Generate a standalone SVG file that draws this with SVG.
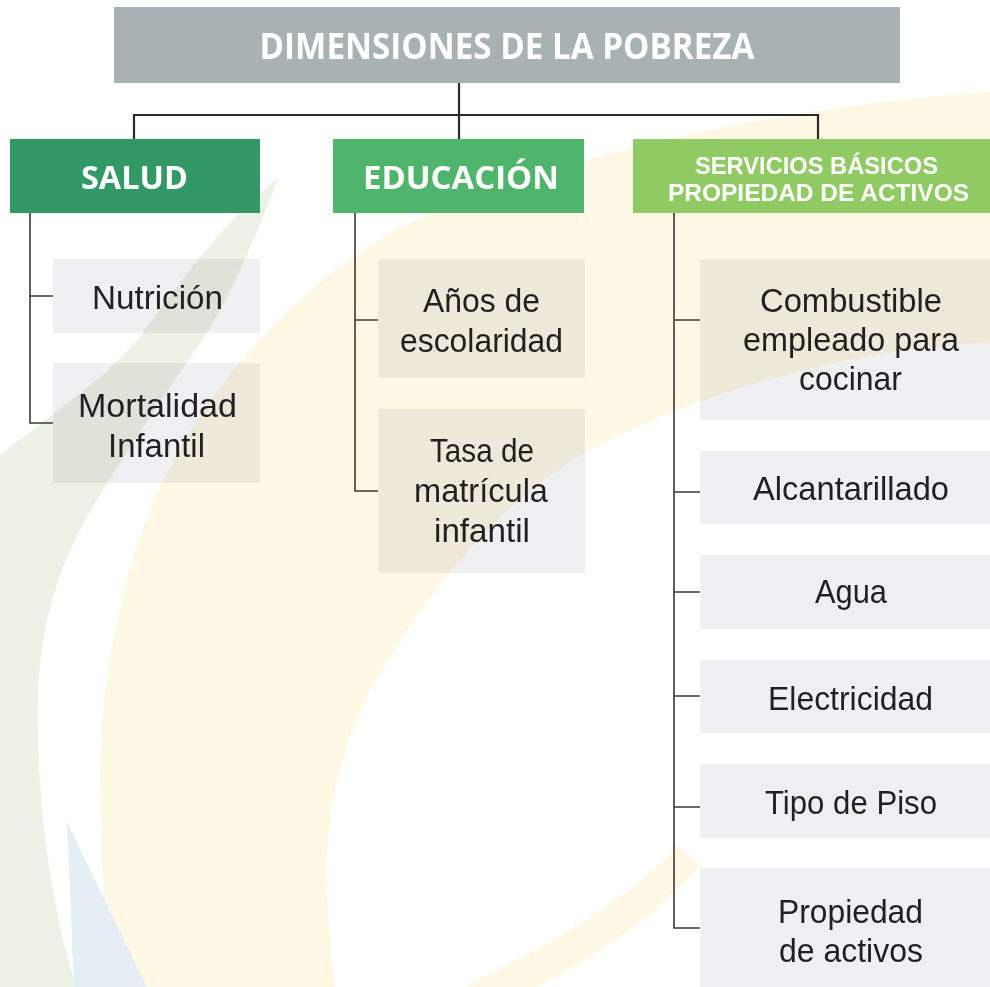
<svg xmlns="http://www.w3.org/2000/svg" width="990" height="987" viewBox="0 0 990 987">
<style>
.hd{font-family:"Open Sans","Liberation Sans",Arial,sans-serif;font-weight:700;fill:#ffffff;text-anchor:middle}
.hs{font-family:"Liberation Sans",Arial,sans-serif;font-weight:700;fill:#ffffff;text-anchor:middle;font-size:24px}
.tx{font-family:"Liberation Sans",Arial,sans-serif;font-weight:400;fill:#231f20;text-anchor:middle;font-size:34px}
.box{fill:#eff0f2;mix-blend-mode:multiply}
.ln{stroke:#3a3a3a;stroke-width:1.6;fill:none}
.top{stroke:#2b2b2b;stroke-width:2.2;fill:none}
</style>
<rect x="0" y="0" width="990" height="987" fill="#ffffff"/>
<g id="watermark">
<path d="M990,92 C800,105 560,150 400,228 C300,280 200,390 150,510 C115,600 98,700 100,800 C102,880 106,940 110,987 L335,987 C328,930 322,860 333,800 C345,740 365,690 397,647 C450,560 520,490 584,453 C700,390 850,350 990,342 Z" fill="#fef8e4"/>
<path d="M464,987 C540,950 630,900 678,845 L700,866 C650,920 590,960 536,987 Z" fill="#fef8e4"/>
<path d="M278,178 C230,215 180,280 143,333 C110,375 70,400 0,455 L0,987 L76,987 C50,900 36,800 38,700 C40,620 60,560 97,500 C130,445 175,380 207,333 C230,295 255,240 278,178 Z" fill="#ecf2e5"/>
<path d="M67,822 L147,987 L74,987 Z" fill="#e6eef5"/>
</g>
<g id="connectors">
<path class="top" d="M459,83 V139 M134,139 V115 H818 V139"/>
<path class="ln" d="M30,213 V423 H53 M30,296 H53"/>
<path class="ln" d="M355,213 V491 H378 M355,320 H378"/>
<path class="ln" d="M674,213 V928 H700 M674,320 H700 M674,492 H700 M674,592 H700 M674,696 H700 M674,807 H700"/>
</g>
<g id="root">
<rect x="114" y="7" width="786" height="76" fill="#a8b2b3"/>
<text class="hd" x="507" y="59" font-size="36" textLength="495" lengthAdjust="spacingAndGlyphs">DIMENSIONES DE LA POBREZA</text>
</g>
<g id="salud">
<rect x="10" y="139" width="250" height="74" fill="#319866"/>
<text class="hd" x="134.5" y="189" font-size="33" textLength="107" lengthAdjust="spacingAndGlyphs">SALUD</text>
</g>
<g id="educacion">
<rect x="333" y="139" width="251" height="74" fill="#4fb56a"/>
<text class="hd" x="461" y="189" font-size="33" textLength="196" lengthAdjust="spacingAndGlyphs">EDUCACIÓN</text>
</g>
<g id="servicios">
<rect x="633" y="139" width="357" height="74" fill="#8fca62"/>
<text class="hs" x="816.5" y="174" textLength="243" lengthAdjust="spacingAndGlyphs">SERVICIOS BÁSICOS</text>
<text class="hs" x="818.5" y="201" textLength="301" lengthAdjust="spacingAndGlyphs">PROPIEDAD DE ACTIVOS</text>
</g>
<g id="nutricion">
<rect class="box" x="53" y="259" width="207" height="74"/>
<text class="tx" x="157.5" y="309" textLength="131" lengthAdjust="spacingAndGlyphs">Nutrición</text>
</g>
<g id="mortalidad">
<rect class="box" x="53" y="363" width="207" height="120"/>
<text class="tx" x="157.5" y="417" textLength="159" lengthAdjust="spacingAndGlyphs">Mortalidad</text>
<text class="tx" x="156.5" y="457" textLength="97" lengthAdjust="spacingAndGlyphs">Infantil</text>
</g>
<g id="anos">
<rect class="box" x="378" y="259" width="207" height="119"/>
<text class="tx" x="481.5" y="312" textLength="117" lengthAdjust="spacingAndGlyphs">Años de</text>
<text class="tx" x="481.5" y="352" textLength="163" lengthAdjust="spacingAndGlyphs">escolaridad</text>
</g>
<g id="tasa">
<rect class="box" x="378" y="409" width="207" height="164"/>
<text class="tx" x="482" y="462" textLength="104" lengthAdjust="spacingAndGlyphs">Tasa de</text>
<text class="tx" x="481" y="502" textLength="134" lengthAdjust="spacingAndGlyphs">matrícula</text>
<text class="tx" x="482" y="542" textLength="96" lengthAdjust="spacingAndGlyphs">infantil</text>
</g>
<g id="combustible">
<rect class="box" x="700" y="259" width="290" height="161"/>
<text class="tx" x="851" y="312" textLength="182" lengthAdjust="spacingAndGlyphs">Combustible</text>
<text class="tx" x="851" y="351" textLength="216" lengthAdjust="spacingAndGlyphs">empleado para</text>
<text class="tx" x="850.5" y="390" textLength="103" lengthAdjust="spacingAndGlyphs">cocinar</text>
</g>
<g id="alcantarillado">
<rect class="box" x="700" y="451" width="290" height="73"/>
<text class="tx" x="851" y="500" textLength="196" lengthAdjust="spacingAndGlyphs">Alcantarillado</text>
</g>
<g id="agua">
<rect class="box" x="700" y="555" width="290" height="74"/>
<text class="tx" x="851" y="603" textLength="72" lengthAdjust="spacingAndGlyphs">Agua</text>
</g>
<g id="electricidad">
<rect class="box" x="700" y="660" width="290" height="73"/>
<text class="tx" x="850.5" y="710" textLength="165" lengthAdjust="spacingAndGlyphs">Electricidad</text>
</g>
<g id="piso">
<rect class="box" x="700" y="764" width="290" height="74"/>
<text class="tx" x="851" y="814" textLength="172" lengthAdjust="spacingAndGlyphs">Tipo de Piso</text>
</g>
<g id="propiedad">
<rect class="box" x="700" y="868" width="290" height="119"/>
<text class="tx" x="850.5" y="923" textLength="145" lengthAdjust="spacingAndGlyphs">Propiedad</text>
<text class="tx" x="851" y="962" textLength="144" lengthAdjust="spacingAndGlyphs">de activos</text>
</g>
</svg>
